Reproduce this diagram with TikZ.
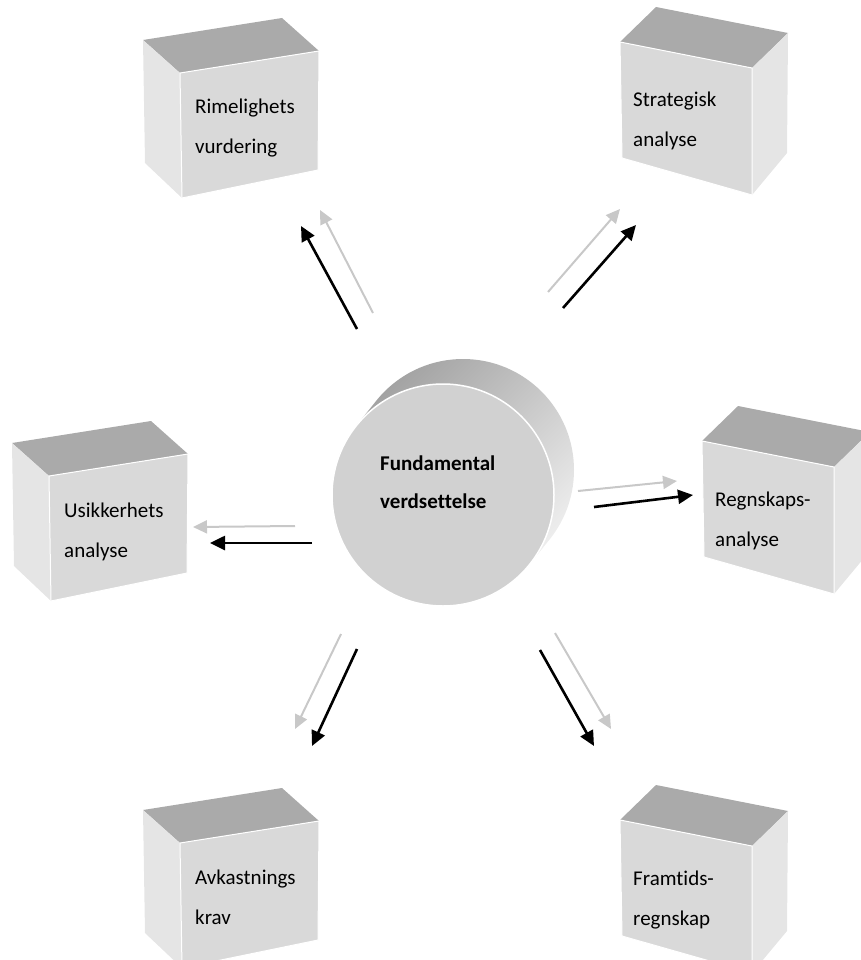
\documentclass[tikz,border=0pt]{standalone}
\usepackage{fontspec}
\setmainfont{Carlito}[Ligatures=NoCommon]
\usetikzlibrary{positioning}
\usetikzlibrary{arrows.meta,calc}

\definecolor{cubetop}{RGB}{170,170,170}
\definecolor{cubefront}{RGB}{217,217,217}
\definecolor{cubeside}{RGB}{229,229,229}
\definecolor{cylfront}{RGB}{209,209,209}
\definecolor{cyldark}{RGB}{160,160,160}
\definecolor{cyllight}{RGB}{242,242,242}
\definecolor{arrowgray}{RGB}{200,200,200}

\tikzset{
  cubetext/.style={anchor=base west, align=left, inner sep=0pt, font=\fontsize{21}{40}\selectfont},
  blackarrow/.style={-{Triangle[length=15pt,width=14pt]}, line width=2.6pt, black},
  grayarrow/.style={-{Triangle[length=14pt,width=13pt]}, line width=2pt, arrowgray},
}

\begin{document}
\begin{tikzpicture}[x=1pt,y=-1pt]
\useasboundingbox (0,0) rectangle (860,960);

% cubes with the side face on the left
\foreach \x/\y/\n/\t in {143/40/rim/{Rimelighets\\vurdering}, 12/443/usi/{Usikkerhets\\analyse}, 143/810/avk/{Avkastnings\\krav}}{
  \begin{scope}[shift={(\x,\y)}]
    \fill[cubetop] (0,0) -- (139,-22) -- (176,11) -- (37,33) -- cycle;
    \fill[cubeside] (0,0) -- (37,33) -- (39,158) -- (2,123) -- cycle;
    \path[fill=cubefront, draw=white, line width=1pt] (37,33) -- (176,11) -- (175,130) -- (39,158) -- cycle;
    \node[cubetext] (\n) at (52,114) {\t};
  \end{scope}
}

% cubes with the side face on the right
\foreach \x/\y/\n/\t in {788/33/str/{Strategisk\\analyse}, 870/432/reg/{Regnskaps-\\analyse}, 788/811/fra/{Framtids-\\regnskap}}{
  \begin{scope}[shift={(\x,\y)}]
    \fill[cubetop] (0,0) -- (-132,-26) -- (-168,9) -- (-36,35) -- cycle;
    \fill[cubeside] (0,0) -- (-36,35) -- (-36,162) -- (-1,120) -- cycle;
    \path[fill=cubefront, draw=white, line width=1pt] (-168,9) -- (-36,35) -- (-36,162) -- (-166,125) -- cycle;
    \node[cubetext] (\n) at (-155,114) {\t};
  \end{scope}
}

% cylinder
\coordinate (fvc) at (443,495);
\shade[top color=cyldark, bottom color=cyllight, shading angle=45]
  \foreach \k in {0,...,10}{ ($(fvc)+(2*\k,-2.5*\k)$) circle[radius=111pt] };
\node[circle, fill=cylfront, draw=white, line width=1.5pt, minimum size=222pt, inner sep=0pt] (fv) at (fvc) {};
\node[anchor=base west, align=left, inner sep=0pt, font=\bfseries\fontsize{21}{38}\selectfont] (fvtext) at (380,508) {Fundamental\\verdsettelse};

% arrow pairs
\foreach \n/\sx/\sy/\ex/\ey in {rim/373/313/320/210, str/548/292/620/209, usi/295/526/193/527,
    reg/578/491/677/481, avk/341/634/295/729, fra/555/633/611/729}{
  \coordinate (\n-gs) at (\sx,\sy);
  \coordinate (\n-ge) at (\ex,\ey);
  \draw[grayarrow] (\n-gs) -- (\n-ge);
}
\foreach \n/\sx/\sy/\ex/\ey in {rim/357/329/301/226, str/563/308/636/225, usi/312/543/210/543,
    reg/594/507/693/495, avk/357/649/312/746, fra/540/650/594/746}{
  \coordinate (\n-bs) at (\sx,\sy);
  \coordinate (\n-be) at (\ex,\ey);
  \draw[blackarrow] (\n-bs) -- (\n-be);
}
\end{tikzpicture}
\end{document}
